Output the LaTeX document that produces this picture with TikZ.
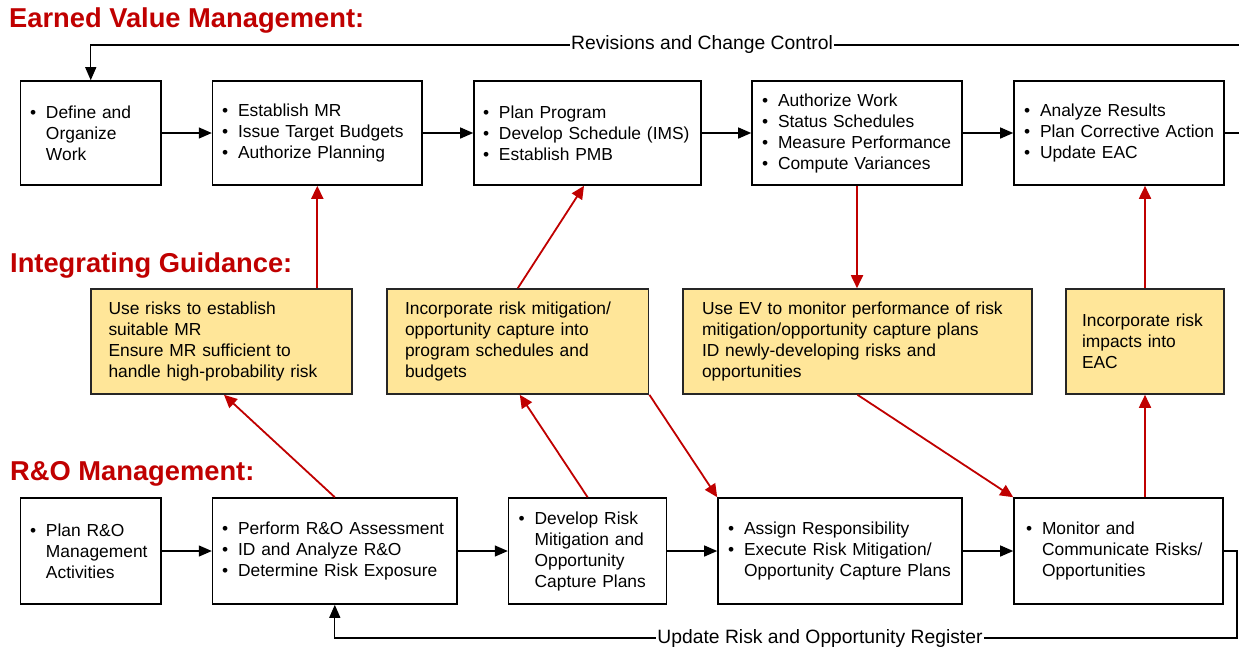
\documentclass[tikz,border=0pt]{standalone}
\usepackage{fontspec}
\setmainfont{Liberation Sans}
\usetikzlibrary{arrows.meta,calc}
\definecolor{hdred}{RGB}{192,0,0}
\definecolor{ylw}{RGB}{255,230,153}
\newcommand{\bt}{\makebox[16pt][l]{•}}
\newcommand{\ind}{\hspace*{16pt}}
\begin{document}
\begin{tikzpicture}[x=1pt,y=-1pt,
  txt/.style={font=\fontsize{17.4pt}{21pt}\selectfont},
  base/.style={txt, align=left, line width=1.6pt, draw=black, inner ysep=0pt},
  ebox/.style={base, fill=white, minimum height=104pt},
  rbox/.style={base, fill=white, minimum height=106pt},
  ybox/.style={base, fill=ylw, draw=black!85, minimum height=105pt},
  flow/.style={line width=1.3pt, -{Triangle[length=13pt,width=11pt]}},
  rflow/.style={line width=1.8pt, draw=hdred, -{Triangle[length=13pt,width=12pt]}, color=hdred},
  hd/.style={font=\fontsize{27.3pt}{32pt}\selectfont\bfseries, text=hdred, anchor=base west, inner sep=0pt},
  lbl/.style={font=\fontsize{19.3pt}{23pt}\selectfont, fill=white, inner sep=1pt}
]
\useasboundingbox (0,0) rectangle (1239,649);
\fill[white] (0,0) rectangle (1239,649);

% headings
\node[hd] (h1) at (9,27) {Earned Value Management:};
\node[hd] (h2) at (10,272) {Integrating Guidance:};
\node[hd] (h3) at (10,480) {R\&O Management:};

% EVM row
\node[ebox, inner xsep=9.5pt, text width=121.5pt] (A1) at (90.75,133) {\bt Define and\\\ind Organize\\\ind Work};
\node[ebox, inner xsep=9.5pt, text width=190.4pt] (A2) at (317.3,133) {\bt Establish MR\\\bt Issue Target Budgets\\\bt Authorize Planning};
\node[ebox, inner xsep=9pt, text width=209pt] (A3) at (587.5,133) {\bt Plan Program\\\bt Develop Schedule (IMS)\\\bt Establish PMB};
\node[ebox, inner xsep=10pt, text width=190pt] (A4) at (857,133) {\bt Authorize Work\\\bt Status Schedules\\\bt Measure Performance\\\bt Compute Variances};
\node[ebox, inner xsep=10pt, text width=190pt] (A5) at (1119,133) {\bt Analyze Results\\\bt\mbox{Plan Corrective Action}\\\bt Update EAC};

% guidance row
\node[ybox, inner xsep=17.5pt, text width=226pt] (Y1) at (221.5,341.5) {Use risks to establish\\suitable MR\\Ensure MR sufficient to\\handle high-probability risk};
\node[ybox, inner xsep=18pt, text width=225.6pt] (Y2) at (517.8,341.5) {Incorporate risk mitigation/\\opportunity capture into\\program schedules and\\budgets};
\node[ybox, inner xsep=19pt, text width=311pt] (Y3) at (857.5,341.5) {Use EV to monitor performance of risk\\mitigation/opportunity capture plans\\ID newly-developing risks and\\opportunities};
\node[ybox, inner xsep=16pt, text width=126pt] (Y4) at (1145,341.5) {Incorporate risk\\impacts into\\EAC};

% R&O row
\node[rbox, inner xsep=9.5pt, text width=121.5pt] (B1) at (90.75,551) {\bt Plan R\&O\\\ind Management\\\ind Activities};
\node[rbox, inner xsep=9.5pt, text width=225.4pt] (B2) at (334.8,551) {\bt Perform R\&O Assessment\\\bt ID and Analyze R\&O\\\bt Determine Risk Exposure};
\node[rbox, inner xsep=10pt, text width=138pt] (B3) at (587.6,551) {\bt Develop Risk\\\ind Mitigation and\\\ind Opportunity\\\ind Capture Plans};
\node[rbox, inner xsep=10pt, text width=224pt] (B4) at (840,551) {\bt Assign Responsibility\\\bt Execute Risk Mitigation/\\\ind Opportunity Capture Plans};
\node[rbox, inner xsep=12pt, text width=185pt] (B5) at (1118.5,551) {\bt Monitor and\\\ind Communicate Risks/\\\ind Opportunities};

% black flows
\draw[flow] (A1) -- (A2);
\draw[flow] (A2) -- (A3);
\draw[flow] (A3) -- (A4);
\draw[flow] (A4) -- (A5);
\draw[flow] (B1) -- (B2);
\draw[flow] (B2) -- (B3);
\draw[flow] (B3) -- (B4);
\draw[flow] (B4) -- (B5);

% feedback loops
\coordinate (rt) at (1252,45);
\draw[flow] (A5.east) -| (rt) -| (A1.north);
\node[lbl] (l1) at (702,45) {Revisions and Change Control};
\coordinate (rb) at (1237,638);
\draw[flow] (B5.east) -| (rb) -| (B2.south);
\node[lbl] (l2) at (820,638) {Update Risk and Opportunity Register};

% red guidance arrows
\draw[rflow] (A2.south |- Y1.north) -- (A2.south);
\draw[rflow] (Y2.north) -- ([xshift=-3.5pt]A3.south);
\draw[rflow] (A4.south) -- (A4.south |- Y3.north);
\draw[rflow] (Y4.north) -- (Y4.north |- A5.south);
\draw[rflow] (B2.north) -- ([xshift=2.5pt]Y1.south);
\draw[rflow] (B3.north) -- ([xshift=2pt]Y2.south);
\draw[rflow] (Y2.south east) -- (B4.north west);
\draw[rflow] (Y3.south) -- (B5.north west);
\draw[rflow] (Y4.south |- B5.north) -- (Y4.south);
\end{tikzpicture}
\end{document}
